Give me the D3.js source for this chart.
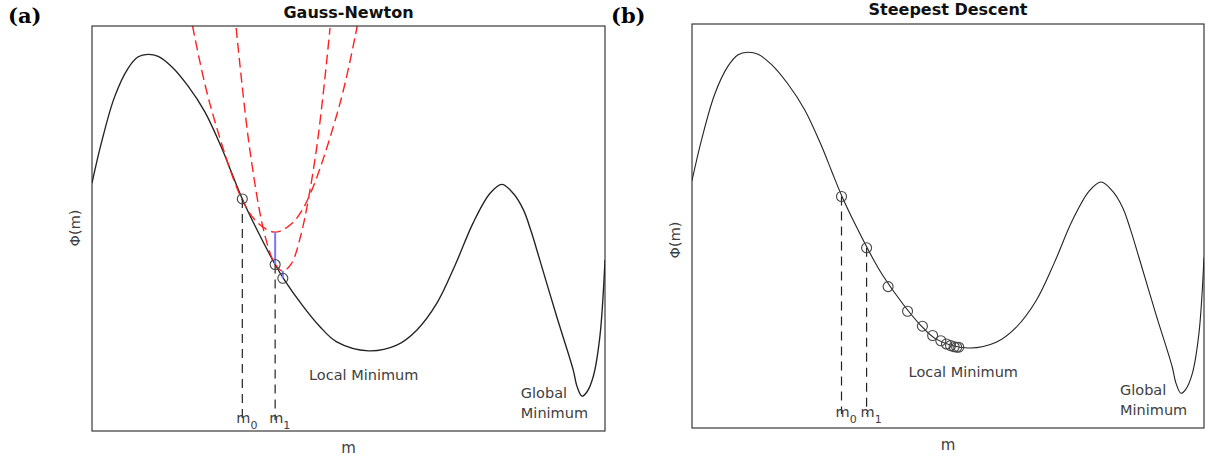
<!DOCTYPE html>
<html>
<head>
<meta charset="utf-8">
<script src="https://cdn.jsdelivr.net/npm/d3@7"></script>
<style>
  html, body { margin: 0; padding: 0; background: #fff; }
  svg { display: block; font-family: "DejaVu Sans", sans-serif; }
</style>
</head>
<body>
<svg id="fig" width="1210" height="463"></svg>
<script>
// Objective function Φ(m) sampled along m
const curveM   = [0, 0.18, 0.44, 0.70, 0.90, 1.09, 1.29, 1.55, 1.87, 2.20, 2.52, 2.73, 2.93, 3.18, 3.57, 3.73, 4.12, 4.44, 4.77, 5.39, 5.94, 6.33, 6.72, 7.08, 7.43, 7.76, 7.99, 8.21, 8.41, 8.56, 8.73, 9.06, 9.38, 9.45, 9.55, 9.64, 9.77, 9.90, 10];
const curvePhi = [6.12, 7.10, 8.25, 8.95, 9.24, 9.30, 9.25, 9.00, 8.52, 7.88, 7.01, 6.35, 5.73, 5.06, 4.11, 3.77, 3.07, 2.58, 2.20, 1.98, 2.12, 2.49, 3.15, 4.10, 5.14, 5.87, 6.09, 5.87, 5.46, 4.93, 4.22, 2.82, 1.51, 1.12, 0.86, 0.95, 1.34, 2.33, 4.22];

// Gauss-Newton iterates
const gnM   = [2.93, 3.57, 3.72];
const gnPhi = [5.73, 4.11, 3.77];

// Quadratic models built at m0 and m1
const quad1M   = [1.96, 2.30, 2.92, 3.24, 3.57, 3.90, 4.21, 4.83, 5.17];
const quad1Phi = [10.0, 8.07, 5.73, 5.13, 4.91, 5.13, 5.73, 8.07, 10.0];
const quad2M   = [2.81, 3.08, 3.37, 3.57, 3.72, 3.88, 4.07, 4.37, 4.64];
const quad2Phi = [9.95, 6.91, 4.83, 4.12, 3.95, 4.12, 4.83, 6.91, 9.95];

// Step from model minimum down to the function
const stepM      = [3.57, 3.72];
const stepTopPhi = [4.91, 3.95];
const stepBotPhi = [4.11, 3.77];

// Steepest descent iterates
const sdM   = [2.92, 3.41, 3.83, 4.21, 4.50, 4.70, 4.86, 4.97, 5.05, 5.12, 5.17, 5.21];
const sdPhi = [5.73, 4.46, 3.50, 2.89, 2.52, 2.29, 2.16, 2.08, 2.04, 2.01, 2.00, 2.00];

// Iterate labels (first two iterates are marked)
const iterLabels = ["0", "1"];

const titles = ["Gauss-Newton", "Steepest Descent"];
const panelTags = ["(a)", "(b)"];

const svg = d3.select("#fig");
const textColor = "#404040";

const panels = [
  { left: 92,  top: 26, width: 513, height: 405, lineW: 1.35, labelGap: 8,  ylabY: 228, xlabBase: 453, titleBase: 18, tagX: 8,   iterM: gnM, iterPhi: gnPhi, gn: true },
  { left: 692, top: 24, width: 512, height: 404, lineW: 1.1,  labelGap: 11, ylabY: 240, xlabBase: 450, titleBase: 15, tagX: 611, iterM: sdM, iterPhi: sdPhi, gn: false }
];

const curveData = curveM.map((m, i) => [m, curvePhi[i]]);

panels.forEach((p, pi) => {
  const x = d3.scaleLinear().domain([0, 10]).range([p.left, p.left + p.width]);
  const y = d3.scaleLinear().domain([0, 10]).range([p.top + p.height, p.top]);
  const line = d3.line().x(d => x(d[0])).y(d => y(d[1])).curve(d3.curveCatmullRom.alpha(0.5));

  const clipId = "clip" + pi;
  svg.append("clipPath").attr("id", clipId)
    .append("rect").attr("x", p.left).attr("y", p.top).attr("width", p.width).attr("height", p.height);

  const g = svg.append("g");
  const plot = g.append("g").attr("clip-path", `url(#${clipId})`);

  // Function curve
  plot.append("path").datum(curveData)
    .attr("d", line).attr("fill", "none")
    .attr("stroke", "#222").attr("stroke-width", p.lineW);

  if (p.gn) {
    [[quad1M, quad1Phi], [quad2M, quad2Phi]].forEach(([qm, qp]) => {
      plot.append("path").datum(qm.map((m, i) => [m, qp[i]]))
        .attr("d", line).attr("fill", "none")
        .attr("stroke", "#ff2020").attr("stroke-width", 1.4)
        .attr("stroke-dasharray", "10,5");
    });
    plot.selectAll("line.step").data(stepM).join("line")
      .attr("class", "step")
      .attr("x1", d => x(d)).attr("x2", d => x(d))
      .attr("y1", (d, i) => y(stepTopPhi[i])).attr("y2", (d, i) => y(stepBotPhi[i]))
      .attr("stroke", "#7878ff").attr("stroke-width", 2);
  }

  // Dashed drop lines for the labelled iterates
  const labelBase = p.top + p.height - p.labelGap;
  iterLabels.forEach((lab, i) => {
    plot.append("line")
      .attr("x1", x(p.iterM[i])).attr("x2", x(p.iterM[i]))
      .attr("y1", y(p.iterPhi[i])).attr("y2", labelBase - 3)
      .attr("stroke", "#222").attr("stroke-width", 1.2)
      .attr("stroke-dasharray", "9,6");
    const t = g.append("text")
      .attr("x", x(p.iterM[i]) - 6).attr("y", labelBase)
      .attr("font-size", 14.5).attr("fill", textColor);
    t.append("tspan").text("m");
    t.append("tspan").attr("dy", 6).attr("font-size", 11).text(lab);
  });

  // Iterate markers
  plot.selectAll("circle.it").data(p.iterM).join("circle")
    .attr("class", "it")
    .attr("cx", d => x(d)).attr("cy", (d, i) => y(p.iterPhi[i]))
    .attr("r", 5).attr("fill", "none")
    .attr("stroke", "#444").attr("stroke-width", 1.1);

  // Annotations
  g.append("text").attr("x", x(4.23)).attr("y", y(1.26))
    .attr("font-size", 14.5).attr("fill", textColor).text("Local Minimum");
  g.append("text").attr("x", x(8.36)).attr("y", y(0.81))
    .attr("font-size", 14.5).attr("fill", textColor).text("Global");
  g.append("text").attr("x", x(8.36)).attr("y", y(0.32))
    .attr("font-size", 14.5).attr("fill", textColor).text("Minimum");

  // Frame
  g.append("rect").attr("x", p.left).attr("y", p.top)
    .attr("width", p.width).attr("height", p.height)
    .attr("fill", "none").attr("stroke", "#262626").attr("stroke-width", 1.1);

  // Axis labels
  g.append("text").attr("x", p.left + p.width / 2).attr("y", p.xlabBase)
    .attr("text-anchor", "middle").attr("font-size", 15).attr("fill", textColor).text("m");
  g.append("text")
    .attr("transform", `translate(${p.left - 12},${p.ylabY}) rotate(-90)`)
    .attr("text-anchor", "middle").attr("font-size", 14.5).attr("fill", textColor).text("Φ(m)");

  // Title and panel tag
  g.append("text").attr("x", p.left + p.width / 2).attr("y", p.titleBase)
    .attr("text-anchor", "middle").attr("font-size", 16).attr("font-weight", "bold")
    .attr("fill", "#111").text(titles[pi]);
  g.append("text").attr("x", p.tagX).attr("y", 23)
    .attr("font-family", "'DejaVu Serif', serif").attr("font-size", 21).attr("font-weight", "bold")
    .attr("fill", "#000").text(panelTags[pi]);
});
</script>
</body>
</html>
